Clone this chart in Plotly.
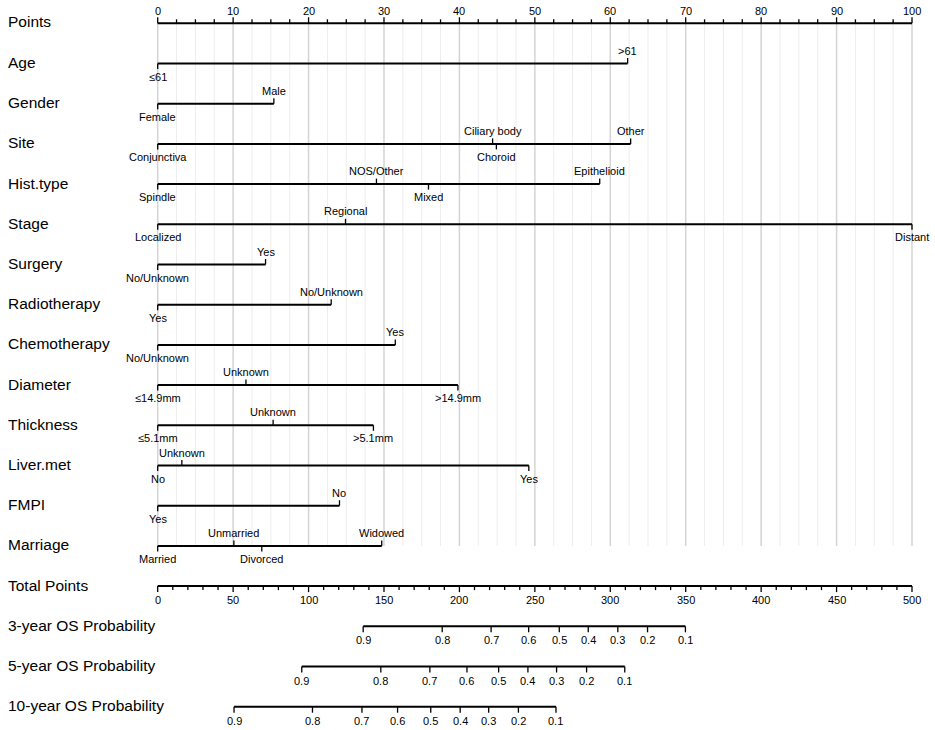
import numpy as np
import plotly.graph_objects as go

# points scale (top axis) and total points scale
point_ticks = list(range(0, 101, 10))
total_ticks = list(range(0, 501, 50))

# predictors: level labels and their points
age_levels = ["≤61", ">61"]
age_pts = [0, 62.3]
gender_levels = ["Female", "Male"]
gender_pts = [0, 15.4]
site_levels = ["Conjunctiva", "Ciliary body", "Choroid", "Other"]
site_pts = [0, 44.4, 44.9, 62.7]
hist_levels = ["Spindle", "NOS/Other", "Mixed", "Epithelioid"]
hist_pts = [0, 29.0, 35.9, 58.6]
stage_levels = ["Localized", "Regional", "Distant"]
stage_pts = [0, 24.9, 100]
surgery_levels = ["No/Unknown", "Yes"]
surgery_pts = [0, 14.3]
radio_levels = ["Yes", "No/Unknown"]
radio_pts = [0, 23.0]
chemo_levels = ["No/Unknown", "Yes"]
chemo_pts = [0, 31.5]
diam_levels = ["≤14.9mm", "Unknown", ">14.9mm"]
diam_pts = [0, 11.7, 39.8]
thick_levels = ["≤5.1mm", "Unknown", ">5.1mm"]
thick_pts = [0, 15.3, 28.6]
liver_levels = ["No", "Unknown", "Yes"]
liver_pts = [0, 3.2, 49.2]
fmpi_levels = ["Yes", "No"]
fmpi_pts = [0, 24.1]
marriage_levels = ["Married", "Unmarried", "Divorced", "Widowed"]
marriage_pts = [0, 10.1, 13.8, 29.7]

# survival probability scales, positions in total points
prob_labels = ["0.9", "0.8", "0.7", "0.6", "0.5", "0.4", "0.3", "0.2", "0.1"]
os3_total = [136.2, 188.6, 221.0, 245.9, 266.2, 285.4, 305.0, 324.7, 349.8]
os5_total = [95.5, 147.9, 180.4, 205.0, 226.0, 245.4, 264.4, 284.3, 309.6]
os10_total = [50.6, 102.6, 135.4, 159.0, 181.0, 200.5, 219.4, 239.1, 264.0]

predictors = [
    ("Age", age_levels, age_pts),
    ("Gender", gender_levels, gender_pts),
    ("Site", site_levels, site_pts),
    ("Hist.type", hist_levels, hist_pts),
    ("Stage", stage_levels, stage_pts),
    ("Surgery", surgery_levels, surgery_pts),
    ("Radiotherapy", radio_levels, radio_pts),
    ("Chemotherapy", chemo_levels, chemo_pts),
    ("Diameter", diam_levels, diam_pts),
    ("Thickness", thick_levels, thick_pts),
    ("Liver.met", liver_levels, liver_pts),
    ("FMPI", fmpi_levels, fmpi_pts),
    ("Marriage", marriage_levels, marriage_pts),
]
prob_rows = [
    ("3-year OS Probability", os3_total),
    ("5-year OS Probability", os5_total),
    ("10-year OS Probability", os10_total),
]

W, H = 935, 730
x0_px, x100_px = 157.7, 912.0
ppx = (x100_px - x0_px) / 100
xr = [-x0_px / ppx, (W - x0_px) / ppx]
row_y0, row_gap = 23.3, 40.2
FONT = "Liberation Sans, Arial, sans-serif"
small = dict(family=FONT, size=11, color="black")
big = dict(family=FONT, size=15.5, color="black")
tick = 5.5

fig = go.Figure()
ann = []


def seg(xs, ys, xaxis="x", color="black", width=2):
    fig.add_trace(go.Scatter(x=xs, y=ys, mode="lines", xaxis=xaxis, yaxis="y",
                             line=dict(color=color, width=width),
                             hoverinfo="skip", showlegend=False))


def label(text, x, y, font=small, xref="x", xanchor="center"):
    ann.append(dict(text=text, x=x, y=y, xref=xref, yref="y", showarrow=False,
                    font=font, xanchor=xanchor, yanchor="middle"))


# background grid (every 2.5 points, darker every 10)
y_top = row_y0
y_bot = row_y0 + row_gap * len(predictors)
gx_minor, gy_minor, gx_major, gy_major = [], [], [], []
for v in np.arange(0, 100.01, 2.5):
    if abs(v % 10) < 1e-9:
        gx_major += [v, v, None]
        gy_major += [y_top, y_bot, None]
    else:
        gx_minor += [v, v, None]
        gy_minor += [y_top, y_bot, None]
seg(gx_minor, gy_minor, color="#ededed", width=1)
seg(gx_major, gy_major, color="#d4d4d4", width=1.5)

# Points axis
label("Points", 6 / W, row_y0 - 2, font=big, xref="paper", xanchor="left")
seg([0, 100], [row_y0, row_y0])
tx, ty = [], []
for v in np.arange(0, 100.01, 2.5):
    major = abs(v % 10) < 1e-9
    tx += [v, v, None]
    ty += [row_y0, row_y0 - (6 if major else 4), None]
seg(tx, ty, width=1.3)
for v in point_ticks:
    label(str(v), v, row_y0 - 12)

# predictor rows
for i, (name, levels, pts) in enumerate(predictors):
    y = row_y0 + row_gap * (i + 1)
    label(name, 6 / W, y - 1, font=big, xref="paper", xanchor="left")
    seg([min(pts), max(pts)], [y, y])
    order = np.argsort(pts, kind="stable")
    tx, ty = [], []
    for k, j in enumerate(order):
        up = k % 2 == 1
        tx += [pts[j], pts[j], None]
        ty += [y, y - tick if up else y + tick, None]
        label(levels[j], pts[j], y - 13 if up else y + 13)
    seg(tx, ty, width=1.3)

# Total points axis
yt = row_y0 + row_gap * (len(predictors) + 1)
label("Total Points", 6 / W, yt - 1, font=big, xref="paper", xanchor="left")
seg([0, 500], [yt, yt], xaxis="x2")
tx, ty = [], []
for v in range(0, 501, 10):
    major = v % 50 == 0
    tx += [v, v, None]
    ty += [yt, yt + (6 if major else 4), None]
seg(tx, ty, xaxis="x2", width=1.3)
for v in total_ticks:
    label(str(v), v, yt + 14, xref="x2")

# probability axes
for i, (name, tot) in enumerate(prob_rows):
    y = yt + row_gap * (i + 1)
    label(name, 6 / W, y - 1, font=big, xref="paper", xanchor="left")
    seg([min(tot), max(tot)], [y, y], xaxis="x2")
    tx, ty = [], []
    for t in tot:
        tx += [t, t, None]
        ty += [y, y + 6, None]
    seg(tx, ty, xaxis="x2", width=1.3)
    for t, lab in zip(tot, prob_labels):
        label(lab, t, y + 14, xref="x2")

fig.update_layout(
    width=W, height=H,
    margin=dict(l=0, r=0, t=0, b=0),
    paper_bgcolor="white", plot_bgcolor="white",
    xaxis=dict(range=xr, visible=False, fixedrange=True),
    xaxis2=dict(range=[xr[0] * 5, xr[1] * 5], overlaying="x", visible=False,
                fixedrange=True),
    yaxis=dict(range=[H, 0], visible=False, fixedrange=True),
    annotations=ann,
)
fig.write_html("out.html", config={"displayModeBar": False},
               post_script="document.body.style.margin='0';")
